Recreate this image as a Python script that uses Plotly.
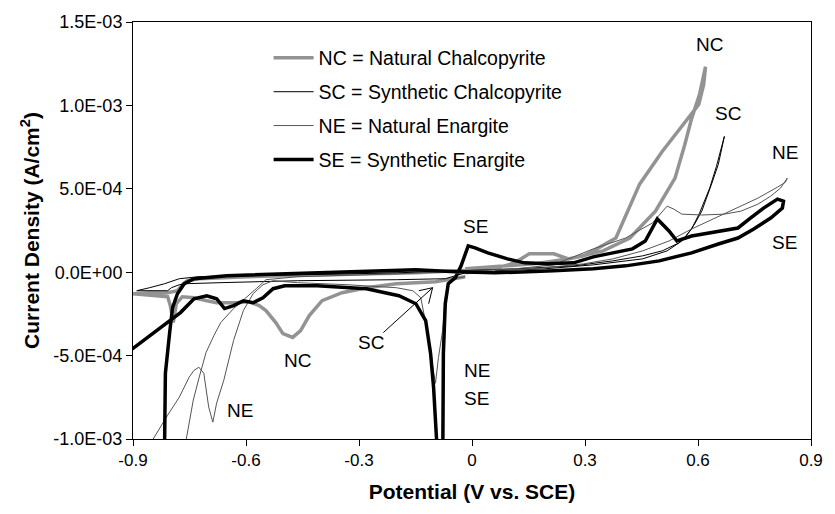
import numpy as np
import plotly.graph_objects as go

# ---- data (potential in V vs SCE, current density in units of 1e-4 A/cm2) ----
NC_V = [-0.018, -0.097, -0.201, -0.280, -0.345, -0.398, -0.432, -0.455, -0.476, -0.502, -0.521, -0.547,
        -0.565, -0.594, -0.625, -0.678, -0.704, -0.738, -0.769, -0.785, -0.793, -0.801, -0.808, -0.842,
        -0.882, -0.900,
        -0.856, -0.808, -0.782, -0.769, -0.756, -0.725, -0.594, -0.332, -0.149, -0.044, 0.060, 0.113,
        0.152, 0.217, 0.256, 0.296, 0.322, 0.382, 0.445, 0.505, 0.565, 0.602, 0.615, 0.620,
        0.604, 0.583, 0.565, 0.539, 0.487, 0.419, 0.348, 0.270, 0.165, 0.060, -0.018]
NC_I = [-0.27, -0.57, -0.69, -0.93, -1.23, -1.71, -2.60, -3.50, -3.91, -3.68, -3.02, -2.30,
        -2.00, -1.77, -1.83, -1.83, -1.71, -1.53, -1.47, -1.89, -3.02, -2.00, -1.47, -1.41,
        -1.35, -1.29,
        -1.23, -1.23, -1.11, -0.75, -0.51, -0.39, -0.27, -0.16, -0.04, 0.08, 0.20, 0.56,
        1.10, 1.10, 0.80, 0.98, 1.28, 2.05, 5.28, 7.24, 9.03, 10.05, 11.24, 12.32,
        10.65, 9.21, 7.66, 5.64, 3.66, 2.05, 1.28, 0.86, 0.50, 0.32, 0.20]

SC_V = [-0.018, -0.058, -0.071, -0.201, -0.463, -0.672, -0.759, -0.777, -0.798, -0.808, -0.890,
        -0.856, -0.816, -0.777, -0.725, -0.463, -0.201, -0.044, 0.113, 0.270, 0.374, 0.453, 0.505,
        0.549, 0.565, 0.591, 0.610, 0.636, 0.654, 0.670,
        0.665, 0.649, 0.631, 0.604, 0.583, 0.557, 0.518, 0.453, 0.322, 0.191, 0.060]
SC_I = [-0.04, -0.27, -0.39, -0.45, -0.51, -0.63, -0.69, -0.75, -0.93, -1.11, -1.11,
        -0.93, -0.69, -0.39, -0.27, -0.16, -0.04, 0.08, 0.20, 0.38, 0.68, 0.98, 1.28,
        1.75, 2.05, 2.89, 3.66, 5.28, 6.47, 8.14,
        7.72, 6.35, 5.04, 3.54, 2.59, 1.87, 1.28, 0.80, 0.44, 0.20, 0.08]

NE_V = [-0.018, -0.050, -0.063, -0.071, -0.078, -0.089, -0.097, -0.105, -0.110, -0.123, -0.136,
        -0.157, -0.201, -0.332, -0.463, -0.528, -0.555, -0.581, -0.607, -0.633, -0.659, -0.678,
        -0.688, -0.699, -0.712, -0.725, -0.738, -0.751, -0.777, -0.808, -0.848, -0.870, -0.770,
        -0.759, -0.740, -0.725, -0.706, -0.685, -0.667, -0.633, -0.602, -0.573, -0.547, -0.463,
        -0.201, -0.018, 0.113, 0.217, 0.322, 0.408, 0.479, 0.518, 0.536, 0.557, 0.610, 0.670,
        0.714, 0.759, 0.793, 0.819, 0.837,
        0.832, 0.811, 0.759, 0.696, 0.636, 0.583, 0.523, 0.453, 0.374, 0.296, 0.191, 0.060, -0.018]
NE_I = [-0.27, -0.39, -0.69, -1.53, -3.50, -5.11, -6.66, -5.58, -4.51, -3.02, -1.53,
        -1.11, -0.93, -0.75, -0.63, -0.51, -0.75, -1.29, -2.30, -4.09, -6.48, -7.85,
        -8.99, -8.09, -6.06, -5.70, -5.88, -6.30, -7.49, -8.57, -10.06, -13.0, -12.5,
        -10.06, -7.67, -6.36, -4.81, -3.79, -3.02, -2.18, -1.59, -0.99, -0.45, -0.27,
        -0.10, 0.08, 0.20, 0.44, 1.40, 2.05, 2.95, 3.96, 3.78, 3.48, 3.43, 3.48,
        3.66, 4.08, 4.56, 5.04, 5.64,
        5.39, 5.10, 4.44, 3.78, 3.19, 2.59, 1.87, 1.28, 0.80, 0.50, 0.26, 0.02, -0.10]

SE_V = [-0.078, -0.076, -0.071, -0.063, -0.044, -0.029, -0.010, 0.008, 0.042, 0.094, 0.139, 0.199,
        0.270, 0.322, 0.374, 0.426, 0.460, 0.492, 0.523, 0.544, 0.583, 0.654, 0.706, 0.740, 0.774,
        0.811, 0.827,
        0.824, 0.793, 0.748, 0.706, 0.654, 0.583, 0.497, 0.408, 0.322, 0.217, 0.060, -0.044,
        -0.149, -0.306, -0.521, -0.651, -0.738, -0.764, -0.782, -0.795, -0.803, -0.814, -0.816,
        -0.819, -0.950, -0.950,
        -0.900, -0.861, -0.827, -0.801, -0.774, -0.738, -0.704, -0.678, -0.657, -0.633, -0.607,
        -0.581, -0.555, -0.528, -0.497, -0.411, -0.280, -0.194, -0.149, -0.123, -0.110, -0.102,
        -0.094, -0.092]
SE_I = [-13.0, -4.87, -1.89, -0.69, -0.33, 0.38, 1.58, 1.46, 1.16, 0.80, 0.56, 0.50,
        0.56, 0.92, 1.16, 1.40, 1.87, 3.19, 2.47, 1.87, 2.17, 2.47, 2.65, 3.25, 3.84,
        4.38, 4.26,
        3.84, 3.25, 2.59, 2.05, 1.69, 1.16, 0.68, 0.38, 0.20, 0.08, -0.04, 0.02,
        0.14, 0.02, -0.10, -0.21, -0.39, -0.69, -1.29, -2.12, -3.68, -6.06, -10.06,
        -13.0, -13.0, -4.30,
        -4.57, -3.91, -3.32, -2.90, -2.42, -1.59, -1.41, -1.59, -2.18, -2.00, -1.71,
        -1.83, -1.53, -0.99, -0.81, -0.81, -0.99, -1.41, -1.89, -2.90, -4.87, -6.90,
        -10.06, -13.0]

UNIT = 1e-4  # A/cm2 per data unit

X_TICKS = [-0.9, -0.6, -0.3, 0, 0.3, 0.6, 0.9]
X_TICKTEXT = ["-0.9", "-0.6", "-0.3", "0", "0.3", "0.6", "0.9"]
Y_TICKS = [-1.0e-3, -5.0e-4, 0.0, 5.0e-4, 1.0e-3, 1.5e-3]
Y_TICKTEXT = ["-1.0E-03", "-5.0E-04", "0.0E+00", "5.0E-04", "1.0E-03", "1.5E-03"]

series = [
    ("NC = Natural Chalcopyrite", NC_V, NC_I, "#939393", 3.5),
    ("SC = Synthetic Chalcopyrite", SC_V, SC_I, "#000000", 1.0),
    ("NE = Natural Enargite", NE_V, NE_I, "#555555", 1.0),
    ("SE = Synthetic Enargite", SE_V, SE_I, "#000000", 3.5),
]

FONT = "Liberation Sans, Arial, sans-serif"

fig = go.Figure()
for i, (name, v, c, col, w) in enumerate(series):
    fig.add_trace(go.Scatter(
        x=v, y=np.array(c) * UNIT, mode="lines", name=name,
        line=dict(color=col, width=w), legendgroup=str(i),
    ))

# curve labels
labels = [
    ("NC", 0.631, 1.363e-3), ("SC", 0.680, 9.51e-4), ("NE", 0.832, 7.18e-4),
    ("SE", 0.829, 1.81e-4), ("SE", 0.008, 2.77e-4), ("NC", -0.463, -5.29e-4),
    ("SC", -0.267, -4.21e-4), ("NE", -0.615, -8.27e-4), ("NE", 0.013, -5.88e-4),
    ("SE", 0.013, -7.55e-4),
]
annotations = [dict(x=x, y=y, text=t, showarrow=False, xref="x", yref="y",
                    font=dict(family=FONT, size=19, color="black")) for t, x, y in labels]

# arrow for SC label (shaft + open head)
tip = (-0.1046, -0.93e-4)
shapes = [
    dict(type="line", xref="x", yref="y", x0=-0.2355, y0=-3.62e-4, x1=tip[0], y1=tip[1],
         line=dict(color="black", width=1)),
    dict(type="line", xref="x", yref="y", x0=-0.1413, y0=-1.11e-4, x1=tip[0], y1=tip[1],
         line=dict(color="black", width=1)),
    dict(type="line", xref="x", yref="y", x0=-0.1151, y0=-1.89e-4, x1=tip[0], y1=tip[1],
         line=dict(color="black", width=1)),
]

fig.update_layout(
    width=835, height=514,
    margin=dict(l=133, r=14, t=20, b=75),
    paper_bgcolor="white", plot_bgcolor="white",
    font=dict(family=FONT, color="black"),
    showlegend=True,
    legend=dict(x=0.2, y=0.96, xanchor="left", yanchor="top",
                bgcolor="rgba(0,0,0,0)", font=dict(family=FONT, size=19.5, color="black"),
                tracegroupgap=5.5, itemwidth=40),
    annotations=annotations,
    shapes=shapes,
)
fig.update_xaxes(range=[-0.9, 0.9], tickvals=X_TICKS, ticktext=X_TICKTEXT,
                 showline=True, linecolor="black", linewidth=1, mirror=True,
                 ticks="outside", ticklen=6, tickcolor="black", showgrid=False, zeroline=False,
                 tickfont=dict(family=FONT, size=17),
                 title=dict(text="<b>Potential (V vs. SCE)</b>", font=dict(family=FONT, size=21),
                            standoff=14))
fig.update_yaxes(range=[-1.0e-3, 1.5e-3], tickvals=Y_TICKS, ticktext=Y_TICKTEXT,
                 showline=True, linecolor="black", linewidth=1, mirror=True,
                 ticks="outside", ticklen=6, tickcolor="black", showgrid=False, zeroline=False,
                 tickfont=dict(family=FONT, size=18),
                 title=dict(text="<b>Current Density (A/cm<sup>2</sup>)</b>",
                            font=dict(family=FONT, size=21), standoff=8))

fig.write_html("out.html")
